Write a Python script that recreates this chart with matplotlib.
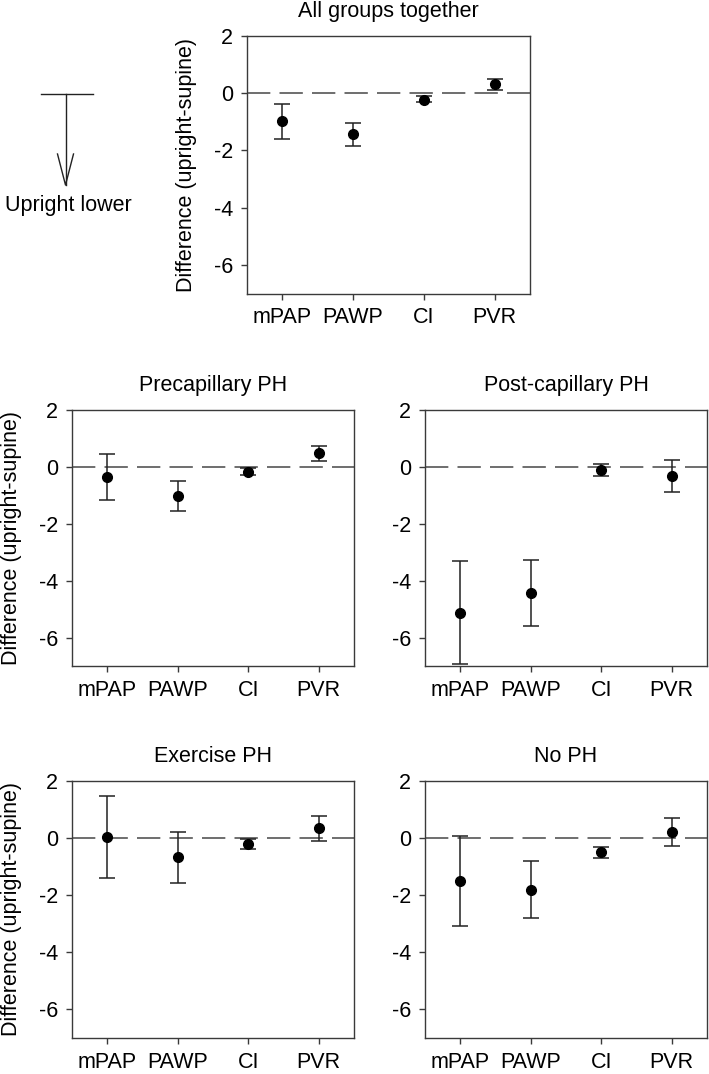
import matplotlib
matplotlib.use('Agg')
import matplotlib.pyplot as plt
from matplotlib.lines import Line2D

plt.rcParams['font.family'] = ['Liberation Sans', 'DejaVu Sans']

# Parameters on the x axis
params = ['mPAP', 'PAWP', 'CI', 'PVR']

# mean difference and error bar limits (lower, upper) for each group
all_mean = [-0.98, -1.43, -0.22, 0.33]
all_low = [-1.59, -1.83, -0.31, 0.13]
all_high = [-0.38, -1.05, -0.10, 0.51]

pre_mean = [-0.36, -1.02, -0.18, 0.48]
pre_low = [-1.18, -1.54, -0.29, 0.21]
pre_high = [0.44, -0.50, -0.05, 0.74]

post_mean = [-5.13, -4.44, -0.11, -0.32]
post_low = [-6.94, -5.60, -0.32, -0.89]
post_high = [-3.32, -3.27, 0.11, 0.25]

ex_mean = [0.05, -0.65, -0.21, 0.35]
ex_low = [-1.38, -1.56, -0.38, -0.09]
ex_high = [1.47, 0.23, -0.02, 0.77]

no_mean = [-1.49, -1.81, -0.50, 0.23]
no_low = [-3.07, -2.81, -0.70, -0.27]
no_high = [0.09, -0.80, -0.31, 0.72]

W, H = 709, 1074
fig = plt.figure(figsize=(W / 100, H / 100), dpi=100)

FS = 15.5
spine_col = '#3a3a3a'


def draw_panel(rect, title, mean, low, high, ylabel=True):
    ax = fig.add_axes(rect)
    x = list(range(len(params)))
    yerr = [[m - l for m, l in zip(mean, low)], [h - m for m, h in zip(mean, high)]]
    ax.axhline(0, color='#555555', lw=1.2, linestyle=(0, (14, 5.5)), zorder=1)
    ax.errorbar(x, mean, yerr=yerr, fmt='o', color='black', ms=7,
                ecolor='#222222', elinewidth=1.1, capsize=6, capthick=1.1, zorder=3)
    ax.set_xlim(-0.5, 3.5)
    ax.set_ylim(-7, 2)
    ax.set_yticks([2, 0, -2, -4, -6])
    ax.set_yticklabels(['2', '0', '-2', '-4', '-6'])
    ax.set_xticks(x)
    ax.set_xticklabels(params)
    ax.tick_params(direction='out', length=4, width=1, color=spine_col,
                   labelsize=FS, pad=6)
    ax.tick_params(axis='x', pad=6)
    for s in ax.spines.values():
        s.set_color(spine_col)
        s.set_linewidth(1)
    ax.set_title(title, fontsize=FS, pad=14)
    if ylabel:
        ax.set_ylabel('Difference (upright-supine)', fontsize=FS, labelpad=12)
    return ax


def px_rect(x0, y0, x1, y1):
    return [x0 / W, 1 - y1 / H, (x1 - x0) / W, (y1 - y0) / H]


draw_panel(px_rect(247, 36, 530, 293.5), 'All groups together', all_mean, all_low, all_high)
draw_panel(px_rect(72, 410, 354, 666), 'Precapillary PH', pre_mean, pre_low, pre_high)
draw_panel(px_rect(425, 410, 707, 666), 'Post-capillary PH', post_mean, post_low, post_high,
           ylabel=False)
draw_panel(px_rect(72, 781, 354, 1038), 'Exercise PH', ex_mean, ex_low, ex_high)
draw_panel(px_rect(425, 781, 707, 1038), 'No PH', no_mean, no_low, no_high, ylabel=False)


# "Upright lower" arrow on the left
def fig_line(xs, ys):
    fig.add_artist(Line2D([v / W for v in xs], [1 - v / H for v in ys],
                          transform=fig.transFigure, color='#222222', lw=1))


fig_line([41, 93], [93.5, 93.5])
fig_line([65.5, 65.5], [93.5, 185])
fig_line([57.5, 65.5, 73.5], [154, 185, 154])
fig.text(5 / W, 1 - 206 / H, 'Upright lower', fontsize=FS, ha='left', va='center')

fig.savefig('out.png', dpi=100)
